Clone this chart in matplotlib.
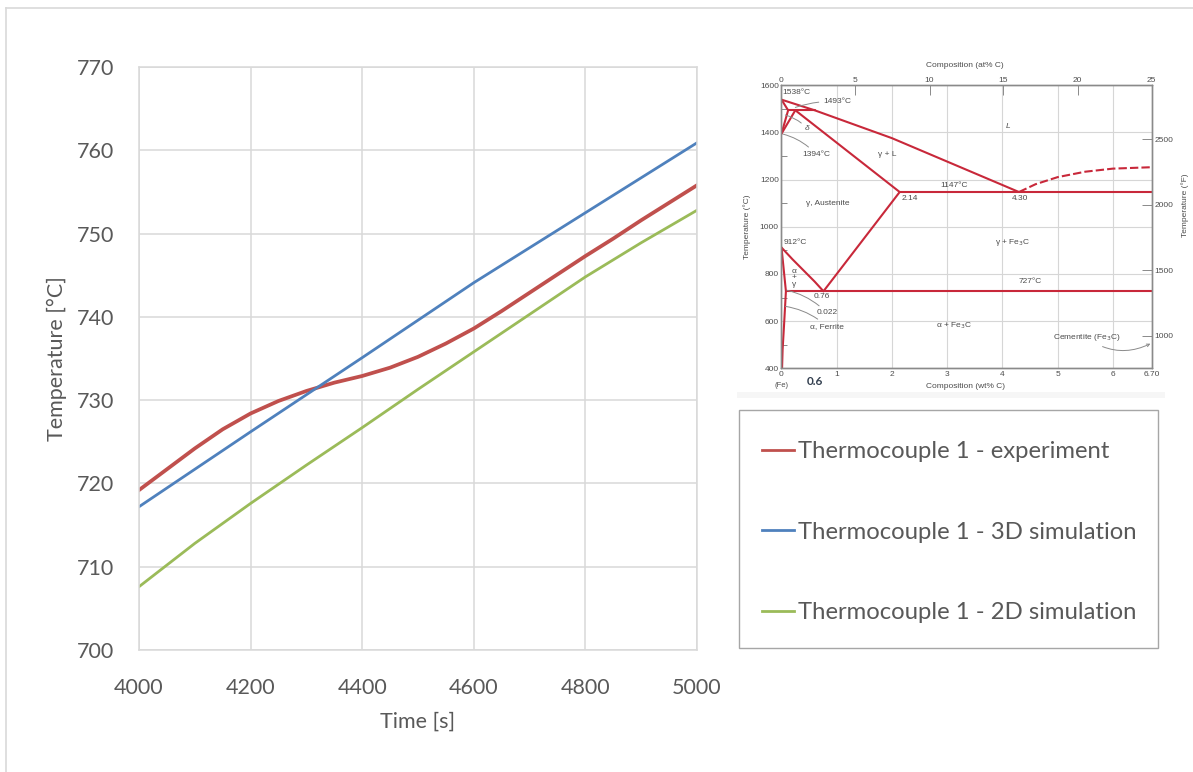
import matplotlib
matplotlib.use("Agg")
import matplotlib.pyplot as plt
from matplotlib.patches import Rectangle
from matplotlib.lines import Line2D

# ---- main chart data ----
time_exp = [4000, 4050, 4100, 4150, 4200, 4250, 4300, 4350, 4400, 4450, 4500,
            4550, 4600, 4650, 4700, 4750, 4800, 4850, 4900, 4950, 5000]
temp_exp = [719.2, 721.7, 724.2, 726.5, 728.4, 729.9, 731.1, 732.1, 732.9, 733.9, 735.2,
            736.8, 738.6, 740.7, 742.9, 745.1, 747.3, 749.4, 751.6, 753.7, 755.8]
time_3d = [4000, 4200, 4400, 4600, 4800, 5000]
temp_3d = [717.2, 726.2, 735.1, 744.1, 752.5, 760.9]
time_2d = [4000, 4100, 4200, 4300, 4400, 4500, 4600, 4700, 4800, 4900, 5000]
temp_2d = [707.6, 712.8, 717.6, 722.2, 726.7, 731.3, 735.8, 740.3, 744.8, 748.9, 752.8]
series_names = ["Thermocouple 1 - experiment",
                "Thermocouple 1 - 3D simulation",
                "Thermocouple 1 - 2D simulation"]
x_ticks = [4000, 4200, 4400, 4600, 4800, 5000]
y_ticks = [700, 710, 720, 730, 740, 750, 760, 770]

# ---- Fe-Fe3C phase diagram (inset), wt% C vs degC ----
liquidus_c = [0, 0.60, 2.0, 4.30]
liquidus_t = [1538, 1493, 1375, 1147]
liq_right_c = [4.30, 4.6, 5.0, 5.5, 6.0, 6.70]
liq_right_t = [1147, 1180, 1210, 1233, 1246, 1252]
delta_c = [0, 0.12, 0]
delta_t = [1538, 1493, 1394]
gamma_left_c = [0, 0.25]
gamma_left_t = [1394, 1493]
peritectic_c = [0.12, 0.60]
peritectic_t = [1493, 1493]
solidus_c = [0.25, 2.14]
solidus_t = [1493, 1147]
acm_c = [2.14, 0.76]
acm_t = [1147, 727]
a3_c = [0, 0.2, 0.4, 0.6, 0.76]
a3_t = [912, 862, 815, 768, 727]
alpha_c = [0, 0.08, 0.05, 0.02, 0.01]
alpha_t = [912, 727, 600, 480, 400]
eutectic_c = [2.14, 6.70]
eutectic_t = [1147, 1147]
eutectoid_c = [0.08, 6.70]
eutectoid_t = [727, 727]

wt_ticks = [0, 1, 2, 3, 4, 5, 6, 6.70]
wt_labels = ["0", "1", "2", "3", "4", "5", "6", "6.70"]
at_labels = [0, 5, 10, 15, 20, 25]
c_ticks = [400, 600, 800, 1000, 1200, 1400, 1600]
f_labels = [1000, 1500, 2000, 2500]

W, H = 1193, 772


def px_rect(l, t, r, b):
    return [l / W, 1 - b / H, (r - l) / W, (b - t) / H]


red, blue, green = "#C0504D", "#4F81BD", "#9BBB59"
txt = "#595959"
grid = "#D9D9D9"
pd_red = "#C8283A"
pd_txt = "#4d4d4d"
pd_gray = "#8a8a8a"

plt.rcParams['font.family'] = ['Lato', 'DejaVu Sans']

fig = plt.figure(figsize=(W / 100, H / 100), dpi=100)

# outer frame lines
fig.add_artist(Line2D([6 / W, 1], [1 - 8 / H, 1 - 8 / H], color=grid, lw=1.2))
fig.add_artist(Line2D([6 / W, 6 / W], [0, 1 - 8 / H], color=grid, lw=1.2))

# ---- main chart ----
ax = fig.add_axes(px_rect(139, 67, 697, 650))
l_exp, = ax.plot(time_exp, temp_exp, color=red, lw=2.7, label=series_names[0])
l_3d, = ax.plot(time_3d, temp_3d, color=blue, lw=2.0, label=series_names[1])
l_2d, = ax.plot(time_2d, temp_2d, color=green, lw=2.0, label=series_names[2])
ax.set_xlim(4000, 5000)
ax.set_ylim(700, 770)
ax.set_xticks(x_ticks)
ax.set_yticks(y_ticks)
ax.grid(True, color=grid, lw=1.1)
ax.set_axisbelow(True)
for s in ax.spines.values():
    s.set_color(grid)
    s.set_linewidth(1.1)
ax.tick_params(axis='both', length=0, labelsize=15.5, colors=txt)
ax.tick_params(axis='y', pad=18)
ax.tick_params(axis='x', pad=20)
ax.set_xlabel("Time [s]", fontsize=15.5, color=txt, va='center')
ax.set_ylabel("Temperature [°C]", fontsize=15.5, color=txt, va='center')
ax.xaxis.set_label_coords(0.5, (650 - 722) / 583)
ax.yaxis.set_label_coords((57 - 139) / 558, 0.5)

# legend box
fig.patches.append(Rectangle((739 / W, 1 - 648 / H), 419 / W, 238 / H,
                             transform=fig.transFigure, fill=False,
                             edgecolor="#A6A6A6", lw=1.0))
fig.legend(handles=[l_exp, l_3d, l_2d], loc='upper left',
           bbox_to_anchor=(762 / W, 1 - 441 / H), frameon=False,
           fontsize=17.2, labelcolor=txt, handlelength=1.35, handletextpad=0.15,
           labelspacing=2.5, borderpad=0, borderaxespad=0)
for h in fig.legends[0].legend_handles:
    h.set_linewidth(2.0)

# ---- inset phase diagram ----
fig.patches.append(Rectangle((737 / W, 1 - 398 / H), 428 / W, 6 / H,
                             transform=fig.transFigure, color="#f6f6f6", lw=0))
iax = fig.add_axes(px_rect(781.5, 85, 1151.5, 368.5))
iax.set_xlim(0, 6.70)
iax.set_ylim(400, 1600)
iax.set_xticks(wt_ticks)
iax.set_xticklabels(wt_labels)
iax.set_yticks(c_ticks)
iax.set_yticks(range(500, 1600, 200), minor=True)
iax.set_xticks([1, 2, 3, 4, 5, 6], minor=True)
iax.grid(True, which='major', color="#d6d6d6", lw=0.8)
iax.set_axisbelow(True)
iax.tick_params(which='major', length=0, labelsize=6, colors=pd_txt, pad=2)
iax.tick_params(which='minor', direction='in', length=4, color=pd_gray, width=0.7)
iax.set_xlabel("Composition (wt% C)", fontsize=6, color=pd_txt, va='center',
               family='Liberation Sans')
iax.xaxis.set_label_coords(0.496, -0.064)
iax.set_ylabel("Temperature (°C)", fontsize=6, color=pd_txt, va='center',
               family='Liberation Sans')
iax.yaxis.set_label_coords(-0.093, 0.5)
for lab in iax.get_xticklabels() + iax.get_yticklabels():
    lab.set_family('Liberation Sans')

top = iax.twiny()
top.set_xlim(0, 6.70)
top.set_xticks([a * 6.70 / 25 for a in at_labels])
top.set_xticklabels([str(a) for a in at_labels], family='Liberation Sans')
top.tick_params(direction='in', length=7, width=0.7, color=pd_gray,
                labelsize=6, labelcolor=pd_txt, pad=1)
top.set_xlabel("Composition (at% C)", fontsize=6, color=pd_txt, va='center',
               family='Liberation Sans')
top.xaxis.set_label_coords(0.496, 1.0705)

right = iax.twinx()
right.set_ylim(400, 1600)
right.set_yticks([(f - 32) * 5 / 9 for f in f_labels])
right.set_yticklabels([str(f) for f in f_labels], family='Liberation Sans')
right.tick_params(direction='in', length=7, width=0.7, color=pd_gray,
                  labelsize=6, labelcolor=pd_txt, pad=2)
right.set_ylabel("Temperature (°F)", fontsize=6, color=pd_txt, va='center',
                 family='Liberation Sans', rotation=90)
right.yaxis.set_label_coords(1.0905, 0.577)

for a in (iax, top, right):
    for s in a.spines.values():
        s.set_color(pd_gray)
        s.set_linewidth(0.9)

kw = dict(color=pd_red, lw=1.5, solid_capstyle='round')
for cx, ty in [(liquidus_c, liquidus_t), (delta_c, delta_t), (gamma_left_c, gamma_left_t),
               (peritectic_c, peritectic_t), (solidus_c, solidus_t), (acm_c, acm_t),
               (a3_c, a3_t), (alpha_c, alpha_t), (eutectic_c, eutectic_t),
               (eutectoid_c, eutectoid_t)]:
    iax.plot(cx, ty, **kw)
iax.plot(liq_right_c, liq_right_t, color=pd_red, lw=1.5, ls=(0, (4, 1.5)))

tk = dict(fontsize=6, color=pd_txt, family='Liberation Sans', va='center')
iax.text(0.02, 1567, "1538°C", ha='left', **tk)
iax.text(4.1, 1423, "L", ha='center', style='italic', **tk)
iax.text(1.91, 1307, "γ + L", ha='center', **tk)
iax.text(3.12, 1174, "1147°C", ha='center', **tk)
iax.text(2.18, 1118, "2.14", ha='left', **tk)
iax.text(4.31, 1118, "4.30", ha='center', **tk)
iax.text(0.83, 1100, "γ, Austenite", ha='center', **tk)
iax.text(0.04, 935, "912°C", ha='left', **tk)
iax.text(4.19, 935, "γ + Fe$_3$C", ha='center', **tk)
iax.text(0.23, 811, "α", ha='center', **tk)
iax.text(0.23, 786, "+", ha='center', **tk)
iax.text(0.23, 755, "γ", ha='center', **tk)
iax.text(4.50, 769, "727°C", ha='center', **tk)
iax.text(0.73, 703, "0.76", ha='center', **tk)
iax.text(3.13, 583, "α + Fe$_3$C", ha='center', **tk)

lead = dict(arrowstyle='-', color=pd_gray, lw=0.7, shrinkA=1, shrinkB=0)
iax.annotate("1493°C", xy=(0.25, 1505), xytext=(0.75, 1529), ha='left',
             arrowprops=dict(connectionstyle='arc3,rad=0.1', **lead), **tk)
iax.annotate("δ", xy=(0.07, 1473), xytext=(0.47, 1414), ha='center', style='italic',
             arrowprops=dict(connectionstyle='arc3,rad=0.15', **lead), **tk)
iax.annotate("1394°C", xy=(0.03, 1392), xytext=(0.37, 1307), ha='left',
             arrowprops=dict(connectionstyle='arc3,rad=0.15', **lead), **tk)
iax.annotate("0.022", xy=(0.10, 731), xytext=(0.63, 635), ha='left',
             arrowprops=dict(connectionstyle='arc3,rad=0.15', **lead), **tk)
iax.annotate("α, Ferrite", xy=(0.07, 663), xytext=(0.51, 579), ha='left',
             arrowprops=dict(connectionstyle='arc3,rad=0.15', **lead), **tk)
iax.annotate("Cementite (Fe$_3$C)", xy=(6.68, 505), xytext=(5.53, 530), ha='center',
             arrowprops=dict(arrowstyle='->', color=pd_gray, lw=0.7, shrinkA=1,
                             shrinkB=0, mutation_scale=5,
                             connectionstyle='arc3,rad=0.3'), **tk)

xt = iax.get_xaxis_transform()
iax.text(0, -0.061, "(Fe)", transform=xt, ha='center', va='center', fontsize=5.5,
         color=pd_txt, family='Liberation Sans')
iax.text(0.61, -0.047, "0.6", transform=xt, ha='center', va='center', fontsize=8.5,
         color="#333f4f", fontweight='bold')

fig.savefig("out.png", dpi=100)
